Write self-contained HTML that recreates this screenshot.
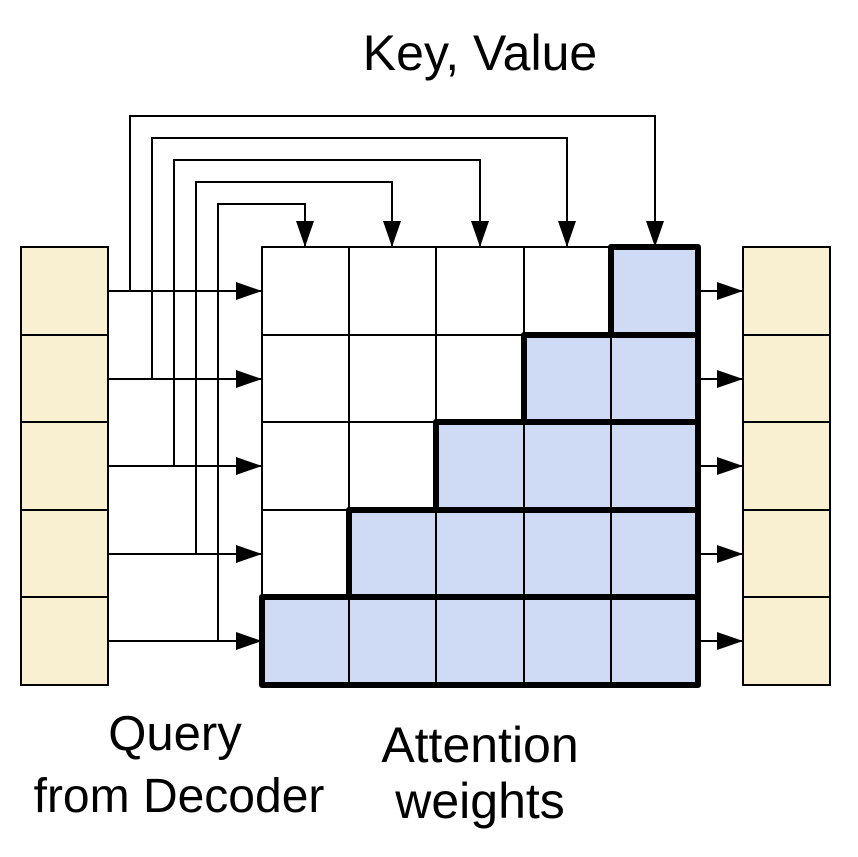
<!DOCTYPE html>
<html><head><style>body{margin:0;background:#fff}</style></head><body>
<svg width="858" height="852" viewBox="0 0 858 852" xmlns="http://www.w3.org/2000/svg" font-family="Liberation Sans, sans-serif">
<defs>
<marker id="b" viewBox="0 0 10 10" refX="10" refY="5" markerWidth="26" markerHeight="18" markerUnits="userSpaceOnUse" orient="auto" preserveAspectRatio="none"><path d="M0,0L10,5L0,10z"/></marker></defs>
<text x="480" y="70" font-size="50" text-anchor="middle">Key, Value</text>
<text x="175" y="750" font-size="49" text-anchor="middle">Query</text>
<text x="179" y="812" font-size="48" text-anchor="middle">from Decoder</text>
<text x="480" y="762" font-size="50" text-anchor="middle">Attention</text>
<text x="480" y="818" font-size="50" text-anchor="middle">weights</text>
<g stroke="#000" stroke-width="2">
<rect x="21" y="247" width="87" height="438" fill="#f9efd1"/>
<rect x="743" y="247" width="87" height="438" fill="#f9efd1"/>
<path d="M21 335H108M21 422H108M21 510H108M21 597H108M743 335H830M743 422H830M743 510H830M743 597H830"/>
<rect x="262" y="247" width="436" height="438" fill="#fff"/>
<path fill="#cfdaf4" stroke="none" d="M611 247H698V685H262V597H349V510H436V422H524V335H611Z"/>
<path d="M349 247V685M436 247V685M524 247V685M611 247V685M262 335H698M262 422H698M262 510H698M262 597H698"/>
<g fill="none">
<path d="M130 291V116H655V247" marker-end="url(#b)"/>
<path d="M152 379V138H567V247" marker-end="url(#b)"/>
<path d="M174 466V160H480V247" marker-end="url(#b)"/>
<path d="M196 554V182H392V247" marker-end="url(#b)"/>
<path d="M218 641V204H305V247" marker-end="url(#b)"/>
<path d="M108 291H262" marker-end="url(#b)"/>
<path d="M108 379H262" marker-end="url(#b)"/>
<path d="M108 466H262" marker-end="url(#b)"/>
<path d="M108 554H262" marker-end="url(#b)"/>
<path d="M108 641H262" marker-end="url(#b)"/>
<path d="M698 291H743" marker-end="url(#b)"/>
<path d="M698 379H743" marker-end="url(#b)"/>
<path d="M698 466H743" marker-end="url(#b)"/>
<path d="M698 554H743" marker-end="url(#b)"/>
<path d="M698 641H743" marker-end="url(#b)"/>
</g>
<g fill="none" stroke-width="6" stroke-linejoin="round">
<path d="M611 247H698V685H262V597H349V510H436V422H524V335H611Z"/>
<path d="M524 335H698M436 422H698M349 510H698M262 597H698"/>
</g>
</g>
</svg>
</body></html>
